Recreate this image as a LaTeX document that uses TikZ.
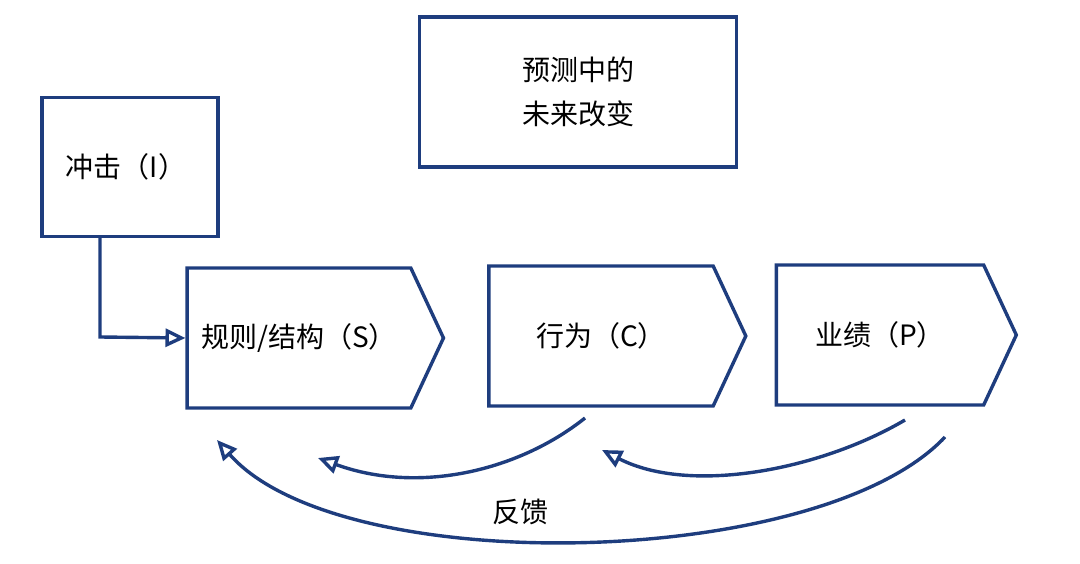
\documentclass[tikz,border=0pt]{standalone}
\usepackage{fontspec}
\setmainfont{Noto Sans CJK SC}
\usetikzlibrary{arrows.meta, positioning, shapes.symbols}
\definecolor{ink}{HTML}{1E3D7E}

\begin{document}
\begin{tikzpicture}[x=1pt,y=-1pt, line width=3.4pt, draw=ink,
  every node/.style={font=\fontsize{28}{44}\selectfont},
  box/.style={draw=ink, rectangle},
  stage/.style={draw=ink, signal, signal to=east, signal pointer angle=130,
    minimum height=140pt, inner xsep=14pt},
  fb/.style={draw=ink, -{Triangle[open,length=20pt,width=18pt]}}]
\useasboundingbox (0,0) rectangle (1080,564);
\node[box, minimum width=317pt, minimum height=150pt, align=center] (forecast) at (578,92) {预测中的\\未来改变};
\node[box, minimum width=176pt, minimum height=139pt] (impact) at (130,167) {\hspace*{-8pt}冲击（I）};
\node[stage, minimum width=256pt] (rules) at (299,338) {规则/结构（S）};
\node[stage, minimum width=257pt] (conduct) at (601,336) {行为（C）};
\node[stage, minimum width=240pt] (perf) at (880,335) {业绩（P）};
\coordinate (bend) at (100,337);
\draw[fb] (impact.south -| bend) -- (bend) -- (rules.west);
\coordinate (c1) at (585,418);
\coordinate (c2) at (318,458);
\draw[fb] (c1) .. controls (520,470) and (420,495) .. (c2);
\coordinate (p1) at (905,420);
\coordinate (p2) at (602,450);
\draw[fb] (p1) .. controls (820,470) and (690,495) .. (p2);
\coordinate (p3) at (945,437);
\coordinate (s1) at (217,440);
\draw[fb] (p3) .. controls (820,570) and (340,580) .. (s1);
\node (feedback) at (520,512) {反馈};
\end{tikzpicture}
\end{document}
